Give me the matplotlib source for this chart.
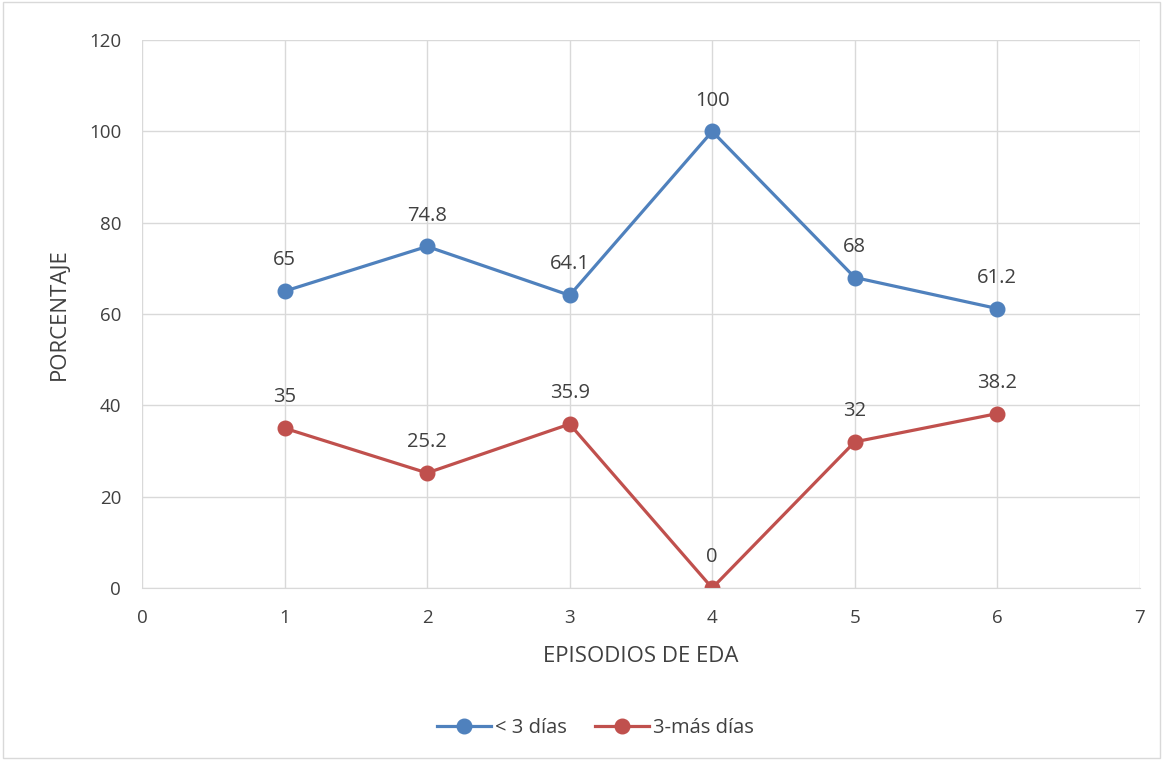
import matplotlib.pyplot as plt
from matplotlib.patches import Rectangle

plt.rcParams['font.family'] = ['Open Sans', 'DejaVu Sans']

# episodios de EDA y porcentajes por duracion
episodios = [1, 2, 3, 4, 5, 6]
menos_3 = [65, 74.8, 64.1, 100, 68, 61.2]
tres_mas = [35, 25.2, 35.9, 0, 32, 38.2]
etiquetas_menos_3 = ["65", "74.8", "64.1", "100", "68", "61.2"]
etiquetas_tres_mas = ["35", "25.2", "35.9", "0", "32", "38.2"]

azul = "#4F81BD"
rojo = "#C0504D"
texto = "#404040"

fig = plt.figure(figsize=(11.63, 7.60), dpi=100)
ax = fig.add_axes([0.1221, 0.2263, 0.858, 0.721])

ax.plot(episodios, menos_3, color=azul, lw=2.3, marker="o", ms=10.5, label="< 3 días")
ax.plot(episodios, tres_mas, color=rojo, lw=2.3, marker="o", ms=10.5, label="3-más días")

for x, y, t in zip(episodios, menos_3, etiquetas_menos_3):
    ax.annotate(t, (x, y), xytext=(0, 15), textcoords="offset points",
                ha="center", va="bottom", fontsize=14.5, color=texto)
for x, y, t in zip(episodios, tres_mas, etiquetas_tres_mas):
    ax.annotate(t, (x, y), xytext=(0, 15), textcoords="offset points",
                ha="center", va="bottom", fontsize=14.5, color=texto)

ax.set_xlim(0, 7)
ax.set_ylim(0, 120)
ax.set_xticks(range(0, 8))
ax.set_yticks(range(0, 121, 20))
ax.grid(True, color="#D9D9D9", lw=1)
ax.set_axisbelow(True)
for s in ["top", "right", "left"]:
    ax.spines[s].set_visible(False)
ax.spines["bottom"].set_color("#D9D9D9")
ax.tick_params(length=0, labelsize=13.5, labelcolor=texto)
ax.tick_params(axis="x", pad=15)
ax.tick_params(axis="y", pad=15)

ax.set_xlabel("EPISODIOS DE EDA", fontsize=16, color=texto, labelpad=14)
ax.set_ylabel("PORCENTAJE", fontsize=16, color=texto, labelpad=14)

fig.legend(loc="center", bbox_to_anchor=(0.512, 0.042), ncol=2, frameon=False,
           fontsize=14.5, labelcolor=texto, handlelength=2.7, handletextpad=0.2,
           columnspacing=1.4)

fig.patches.append(Rectangle((0.003, 0.003), 0.994, 0.994, transform=fig.transFigure,
                             fill=False, edgecolor="#D9D9D9", lw=1))

fig.savefig("out.png", dpi=100)
